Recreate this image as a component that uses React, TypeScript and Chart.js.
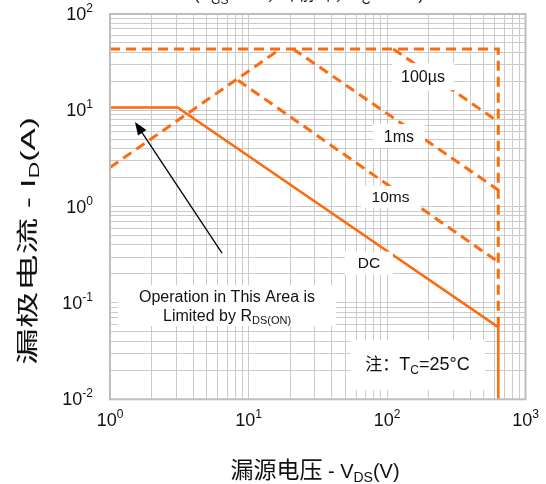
import React, { useEffect, useRef } from "react";
import { Chart, registerables } from "chart.js";

Chart.register(...registerables);

// Safe operating area curves: drain-source voltage (V) vs drain current (A)
const rdsLimitV = [1, 17];
const rdsLimitI = [2.55, 43.4];
const pulseEnvelopeV = [1, 636, 636];
const pulseEnvelopeI = [43.4, 43.4, 0.056];
const pulse100usV = [111, 636];
const pulse100usI = [43.4, 7.6];
const pulse1msV = [21, 636];
const pulse1msI = [43.4, 1.49];
const pulse10msV = [8.4, 636];
const pulse10msI = [20.5, 0.266];
const dcV = [1, 3.08, 636, 636];
const dcI = [10.7, 10.7, 0.056, 0.01];

// Decade exponents used for the axis labels
const xDecades = [0, 1, 2, 3];
const yDecades = [-2, -1, 0, 1, 2];

const ORANGE = "#ff6a0d";
const GRID = "#cacaca";
const LATIN = '"Liberation Sans", Arial, sans-serif';
const CJK = '"Noto Sans CJK SC", "Noto Sans CJK JP", sans-serif';

type Part = { t: string; font: string; dy?: number };

function richWidth(ctx: CanvasRenderingContext2D, parts: Part[]) {
  let w = 0;
  for (const p of parts) {
    ctx.font = p.font;
    w += ctx.measureText(p.t).width;
  }
  return w;
}

function drawRich(
  ctx: CanvasRenderingContext2D,
  parts: Part[],
  x: number,
  y: number,
  align: "left" | "center" | "right"
) {
  const w = richWidth(ctx, parts);
  let cx = align === "left" ? x : align === "center" ? x - w / 2 : x - w;
  ctx.textAlign = "left";
  ctx.textBaseline = "alphabetic";
  for (const p of parts) {
    ctx.font = p.font;
    ctx.fillText(p.t, cx, y + (p.dy || 0));
    cx += ctx.measureText(p.t).width;
  }
}

function logGrid(minExp: number, maxExp: number) {
  const vals: { value: number }[] = [];
  for (let e = minExp; e < maxExp; e++) {
    for (let m = 1; m < 10; m++) vals.push({ value: m * Math.pow(10, e) });
  }
  vals.push({ value: Math.pow(10, maxExp) });
  return vals;
}

const pts = (xs: number[], ys: number[]) => xs.map((x, i) => ({ x, y: ys[i] }));

const decorations = {
  id: "soaDecorations",
  afterDatasetsDraw(chart: any) {
    const ctx: CanvasRenderingContext2D = chart.ctx;
    const xs = chart.scales.x;
    const ys = chart.scales.y;
    const area = chart.chartArea;
    const X = (v: number) => xs.getPixelForValue(v);
    const Y = (v: number) => ys.getPixelForValue(v);

    ctx.save();

    // plot frame
    ctx.strokeStyle = "#bdbdbd";
    ctx.lineWidth = 2;
    ctx.strokeRect(area.left, area.top, area.right - area.left, area.bottom - area.top);

    // white label boxes sitting over the curves
    const box = (cx: number, cy: number, w: number, h: number) => {
      ctx.fillStyle = "#ffffff";
      ctx.fillRect(cx - w / 2, cy - h / 2, w, h);
    };
    const label = (text: string, vx: number, vy: number, w: number, h: number, size: number) => {
      const cx = X(vx);
      const cy = Y(vy);
      box(cx, cy, w, h);
      ctx.fillStyle = "#111111";
      ctx.font = `${size}px ${LATIN}`;
      ctx.textAlign = "center";
      ctx.textBaseline = "middle";
      ctx.fillText(text, cx, cy + 1);
    };
    label("100µs", 182, 22.4, 62, 27, 16);
    label("1ms", 122, 5.4, 52, 24, 16);
    label("10ms", 106, 1.26, 59, 22, 15.5);
    label("DC", 74, 0.26, 48, 23, 15.5);

    // R_DS(on) note
    {
      const cx = X(7.0);
      const cy = Y(0.094);
      box(cx, cy, 218, 41);
      ctx.fillStyle = "#111111";
      ctx.font = `16px ${LATIN}`;
      ctx.textAlign = "center";
      ctx.textBaseline = "alphabetic";
      ctx.fillText("Operation in This Area is", cx, cy - 4);
      drawRich(
        ctx,
        [
          { t: "Limited by R", font: `16px ${LATIN}` },
          { t: "DS(ON)", font: `11px ${LATIN}`, dy: 3 },
        ],
        cx,
        cy + 15,
        "center"
      );
    }

    // case temperature note
    {
      const cx = X(166);
      const cy = Y(0.0226);
      box(cx, cy, 135, 50);
      ctx.fillStyle = "#111111";
      drawRich(
        ctx,
        [
          { t: "注：", font: `17px ${CJK}` },
          { t: "T", font: `18px ${LATIN}` },
          { t: "C", font: `12px ${LATIN}`, dy: 4 },
          { t: "=25°C", font: `18px ${LATIN}` },
        ],
        cx,
        cy + 5,
        "center"
      );
    }

    // arrow pointing into the R_DS(on) limited region
    {
      const x1 = X(6.44);
      const y1 = Y(0.33);
      const x2 = X(1.515);
      const y2 = Y(7.57);
      const ang = Math.atan2(y2 - y1, x2 - x1);
      const head = 13;
      const half = 5;
      ctx.strokeStyle = "#000000";
      ctx.lineWidth = 1.3;
      ctx.beginPath();
      ctx.moveTo(x1, y1);
      ctx.lineTo(x2 - Math.cos(ang) * head * 0.8, y2 - Math.sin(ang) * head * 0.8);
      ctx.stroke();
      ctx.fillStyle = "#000000";
      ctx.beginPath();
      ctx.moveTo(x2, y2);
      ctx.lineTo(
        x2 - Math.cos(ang) * head + Math.sin(ang) * half,
        y2 - Math.sin(ang) * head - Math.cos(ang) * half
      );
      ctx.lineTo(
        x2 - Math.cos(ang) * head - Math.sin(ang) * half,
        y2 - Math.sin(ang) * head + Math.cos(ang) * half
      );
      ctx.closePath();
      ctx.fill();
    }

    // axis tick labels with exponents
    ctx.fillStyle = "#111111";
    for (const e of xDecades) {
      drawRich(
        ctx,
        [
          { t: "10", font: `18px ${LATIN}` },
          { t: String(e), font: `12px ${LATIN}`, dy: -8 },
        ],
        X(Math.pow(10, e)),
        area.bottom + 27,
        "center"
      );
    }
    for (const e of yDecades) {
      drawRich(
        ctx,
        [
          { t: "10", font: `18px ${LATIN}` },
          { t: e < 0 ? "-" + Math.abs(e) : String(e), font: `12px ${LATIN}`, dy: -8 },
        ],
        area.left - 17,
        Y(Math.pow(10, e)) + 6,
        "right"
      );
    }

    // axis titles
    drawRich(
      ctx,
      [
        { t: "漏源电压", font: `23px ${CJK}` },
        { t: " - V", font: `20px ${LATIN}` },
        { t: "DS", font: `14px ${LATIN}`, dy: 4 },
        { t: "(V)", font: `20px ${LATIN}` },
      ],
      315,
      478,
      "center"
    );
    {
      const yTitle: Part[] = [
        { t: "漏极电流", font: `22px ${CJK}` },
        { t: " - I", font: `20px ${LATIN}` },
        { t: "D", font: `14px ${LATIN}`, dy: 4 },
        { t: "(A)", font: `20px ${LATIN}` },
      ];
      const natural = richWidth(ctx, yTitle);
      const stretch = 248 / natural;
      ctx.save();
      ctx.translate(35, 241);
      ctx.rotate(-Math.PI / 2);
      ctx.scale(stretch, 1);
      drawRich(ctx, yTitle, 0, 0, "center");
      ctx.restore();
    }

    // chart heading, mostly above the visible page
    drawRich(
      ctx,
      [
        { t: "(V", font: `17px ${LATIN}` },
        { t: "GS", font: `12px ${LATIN}`, dy: 4 },
        { t: "=10V，单脉冲，T", font: `17px ${CJK}` },
        { t: "C", font: `12px ${LATIN}`, dy: 4 },
        { t: "=25°C)", font: `17px ${LATIN}` },
      ],
      309,
      0,
      "center"
    );

    ctx.restore();
  },
};

export default function App() {
  const canvasRef = useRef<HTMLCanvasElement | null>(null);

  useEffect(() => {
    const canvas = canvasRef.current;
    if (!canvas) return;

    const dashed = { borderColor: ORANGE, borderWidth: 3, borderDash: [10, 6], borderCapStyle: "butt" };

    const chart = new Chart(canvas, {
      type: "line",
      data: {
        datasets: [
          { label: "RDS(on)", data: pts(rdsLimitV, rdsLimitI), ...dashed },
          { label: "envelope", data: pts(pulseEnvelopeV, pulseEnvelopeI), ...dashed },
          { label: "100µs", data: pts(pulse100usV, pulse100usI), ...dashed },
          { label: "1ms", data: pts(pulse1msV, pulse1msI), ...dashed },
          { label: "10ms", data: pts(pulse10msV, pulse10msI), ...dashed },
          {
            label: "DC",
            data: pts(dcV, dcI),
            borderColor: ORANGE,
            borderWidth: 2.6,
            borderCapStyle: "butt",
            borderJoinStyle: "miter",
          },
        ] as any,
      },
      options: {
        responsive: false,
        animation: false,
        events: [],
        layout: { padding: { left: 110, top: 14, right: 20.5, bottom: 84.7 } },
        elements: { point: { radius: 0 }, line: { tension: 0, fill: false } },
        plugins: { legend: { display: false }, tooltip: { enabled: false }, title: { display: false } },
        scales: {
          x: {
            type: "logarithmic",
            min: 1,
            max: 1000,
            afterBuildTicks: (scale: any) => {
              scale.ticks = logGrid(0, 3);
            },
            ticks: { display: false },
            grid: { color: GRID, lineWidth: 1, drawTicks: false },
            border: { display: false },
          },
          y: {
            type: "logarithmic",
            min: 0.01,
            max: 100,
            afterBuildTicks: (scale: any) => {
              scale.ticks = logGrid(-2, 2);
            },
            ticks: { display: false },
            grid: { color: GRID, lineWidth: 1, drawTicks: false },
            border: { display: false },
          },
        },
      } as any,
      plugins: [decorations],
    });

    return () => chart.destroy();
  }, []);

  return (
    <div style={{ position: "fixed", left: 0, top: 0, width: 546, height: 484, background: "#ffffff" }}>
      <canvas ref={canvasRef} width={546} height={484} style={{ display: "block" }} />
    </div>
  );
}
